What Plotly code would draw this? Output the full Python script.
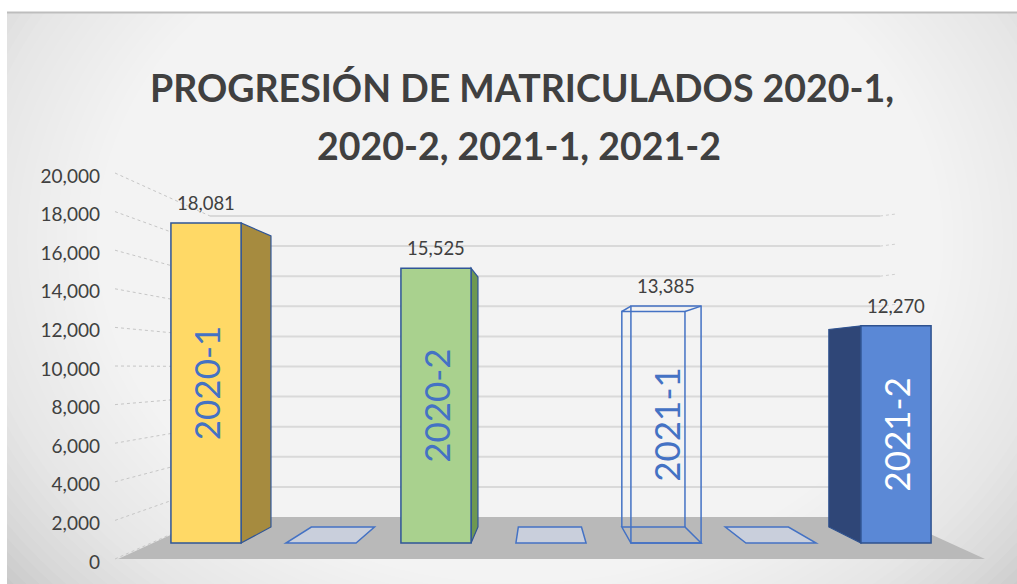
import plotly.graph_objects as go

# ---------------- data ----------------
periodos = ["2020-1", "2020-2", "2021-1", "2021-2"]
matriculados = [18081, 15525, 13385, 12270]
posiciones = [0, 2, 4, 6]          # category slots of the real bars
huecos = [1, 3, 5]                 # empty category slots (value 0)
valores_huecos = [0, 0, 0]
ticks_y = list(range(0, 20001, 2000))
titulo_l1 = "PROGRESIÓN DE MATRICULADOS 2020-1,"
titulo_l2 = "2020-2, 2021-1, 2021-2"

# ---------------- styles ----------------
color_frente = ["#FFD966", "#A9D18E", "rgba(255,255,255,0)", "#5A88D6"]
color_lado = ["#A68B3F", "#6E9851", None, "#2F4677"]
color_borde = ["#2F5597", "#2F5597", "#4472C4", "#2F528F"]
color_texto = ["#4472C4", "#4472C4", "#4472C4", "#FFFFFF"]
FONT = "Lato"

W, H = 1017, 584
X0_PX, X_STEP = 206, 115            # pixel of slot 0, pixels per slot
BAR_W = 0.61

# vertical planes of the pseudo-3D box: (pixel of zero, pixels per unit)
Y_LABEL = (562, 0.0193)
Y_FRONT = (543, 0.0177)
Y_BACK = (527, 0.0161)
Y_WALL = (517, 0.01505)
Y_EDGE = (559, 0.0193)


def ax_range(plane):
    z, k = plane
    return [(z - H) / k, z / k]


def px_y(plane, v):
    z, k = plane
    return z - k * v


def to_front(plane, v):
    p = px_y(plane, v)
    return (Y_FRONT[0] - p) / Y_FRONT[1]


def pxx(px):
    return px / W


def pxy(py):
    return 1 - py / H


VP_X = (540 - X0_PX) / X_STEP
DEPTH = 0.9


def back_x(x):
    return VP_X + (x - VP_X) * DEPTH


shapes = []
# background with radial light
shapes.append(dict(type="rect", xref="paper", yref="paper", x0=pxx(7), x1=1,
                   y0=0, y1=pxy(12), fillcolor="#BBBBBB", line=dict(width=0), layer="below"))
N = 70
cx, cy = 520, 240
for i in range(N):
    f = 1 - i / N
    rx, ry = 690 * f, 560 * f
    shapes.append(dict(type="circle", xref="paper", yref="paper",
                       x0=pxx(cx - rx), x1=pxx(cx + rx), y0=pxy(cy + ry), y1=pxy(cy - ry),
                       fillcolor="rgba(255,255,255,0.075)", line=dict(width=0), layer="below"))
# white margins and top border line
shapes.append(dict(type="rect", xref="paper", yref="paper", x0=0, x1=1, y0=pxy(12), y1=1,
                   fillcolor="#FFFFFF", line=dict(width=0), layer="below"))
shapes.append(dict(type="rect", xref="paper", yref="paper", x0=0, x1=pxx(7), y0=0, y1=1,
                   fillcolor="#FFFFFF", line=dict(width=0), layer="below"))
shapes.append(dict(type="line", xref="paper", yref="paper", x0=pxx(7), x1=1, y0=pxy(12.5), y1=pxy(12.5),
                   line=dict(color="#BDBDBD", width=2), layer="below"))

# floor
WALL_L, WALL_R, EDGE_L, EDGE_R = 210, 893, 118, 985
fy_b, fy_f = px_y(Y_WALL, 0), px_y(Y_EDGE, 0)
shapes.append(dict(type="path", xref="paper", yref="paper",
                   path=f"M {pxx(EDGE_L)},{pxy(fy_f)} L {pxx(WALL_L)},{pxy(fy_b)} "
                        f"L {pxx(WALL_R)},{pxy(fy_b)} L {pxx(EDGE_R)},{pxy(fy_f)} Z",
                   fillcolor="#B9B9B9", line=dict(width=0), layer="below"))

# back wall gridlines and perspective dotted lines on the side wall
for v in ticks_y:
    yw = px_y(Y_WALL, v)
    ye = px_y(Y_EDGE, v)
    if v > 0:
        shapes.append(dict(type="line", xref="paper", yref="paper", x0=pxx(WALL_L), x1=pxx(880),
                           y0=pxy(yw), y1=pxy(yw), line=dict(color="#D9D9D9", width=2), layer="below"))
        shapes.append(dict(type="line", xref="paper", yref="paper", x0=pxx(880), x1=pxx(896),
                           y0=pxy(yw), y1=pxy(yw - 2), line=dict(color="#D0D0D0", width=1, dash="dot"),
                           layer="below"))
    shapes.append(dict(type="line", xref="paper", yref="paper", x0=pxx(EDGE_L - 3), x1=pxx(WALL_L),
                       y0=pxy(ye), y1=pxy(yw), line=dict(color="#C6C6C6", width=1, dash="dot"),
                       layer="below"))


def bottom_face(c, fill, line_color):
    xl, xr = c - BAR_W / 2, c + BAR_W / 2
    b0 = to_front(Y_BACK, 0)
    return dict(type="path", xref="x", yref="y2",
                path=f"M {xl},0 L {xr},0 L {back_x(xr)},{b0} L {back_x(xl)},{b0} Z",
                fillcolor=fill, line=dict(color=line_color, width=1.5), layer="below")


# empty slots: flat bases
for c, v in zip(huecos, valores_huecos):
    shapes.append(bottom_face(c, "#C9CFDC", "#4472C4"))

# side faces / wireframes of the bars
for c, v, side, border in zip(posiciones, matriculados, color_lado, color_borde):
    xl, xr = c - BAR_W / 2, c + BAR_W / 2
    edge = xr if c < VP_X else xl
    bv, b0 = to_front(Y_BACK, v), to_front(Y_BACK, 0)
    if side is None:
        # transparent box: back face + connecting edges
        shapes.append(bottom_face(c, "rgba(255,255,255,0)", border))
        shapes.append(dict(type="path", xref="x", yref="y2",
                           path=f"M {back_x(xl)},{b0} L {back_x(xl)},{bv} L {back_x(xr)},{bv} L {back_x(xr)},{b0}",
                           line=dict(color=border, width=1.5), layer="below"))
        for xx in (xl, xr):
            shapes.append(dict(type="path", xref="x", yref="y2",
                               path=f"M {xx},{v} L {back_x(xx)},{bv}",
                               line=dict(color=border, width=1.5), layer="below"))
    else:
        shapes.append(dict(type="path", xref="x", yref="y2",
                           path=f"M {edge},0 L {edge},{v} L {back_x(edge)},{bv} L {back_x(edge)},{b0} Z",
                           fillcolor=side, line=dict(color=border, width=1.2), layer="below"))

fig = go.Figure()
fig.add_trace(go.Bar(
    x=posiciones, y=matriculados, width=BAR_W, yaxis="y2",
    marker=dict(color=color_frente, line=dict(color=color_borde, width=1.5)),
    text=periodos, textposition="inside", insidetextanchor="middle", textangle=-90,
    textfont=dict(family=FONT, size=35, color=color_texto),
    hoverinfo="skip", cliponaxis=False,
))
# y axis label carrier (invisible)
fig.add_trace(go.Scatter(x=[0], y=[0], mode="markers", marker=dict(opacity=0), hoverinfo="skip"))

annotations = []
for c, v in zip(posiciones, matriculados):
    annotations.append(dict(x=c, y=v, xref="x", yref="y2", text=f"{v:,}", showarrow=False,
                            yshift=20, font=dict(family=FONT, size=18.5, color="#404040")))
annotations.append(dict(x=pxx(522), y=pxy(63), xref="paper", yref="paper", text=f"<b>{titulo_l1}</b>",
                        showarrow=False, font=dict(family=FONT, size=37.5, color="#404040")))
annotations.append(dict(x=pxx(519), y=pxy(121), xref="paper", yref="paper", text=f"<b>{titulo_l2}</b>",
                        showarrow=False, font=dict(family=FONT, size=37.5, color="#404040")))

fig.update_layout(
    width=W, height=H, margin=dict(l=0, r=0, t=0, b=0),
    paper_bgcolor="#FFFFFF", plot_bgcolor="rgba(0,0,0,0)", showlegend=False,
    xaxis=dict(range=[-X0_PX / X_STEP, (W - X0_PX) / X_STEP], visible=False),
    yaxis=dict(range=ax_range(Y_LABEL), tickvals=ticks_y, tickformat=",", showgrid=False,
               zeroline=False, showline=False, anchor="free", position=pxx(100), side="left",
               tickfont=dict(family=FONT, size=19, color="#404040")),
    yaxis2=dict(range=ax_range(Y_FRONT), overlaying="y", visible=False),
    shapes=shapes, annotations=annotations,
)
fig.write_html("out.html", config={"displayModeBar": False},
               post_script="document.body.style.margin='0';document.body.style.overflow='hidden';")
